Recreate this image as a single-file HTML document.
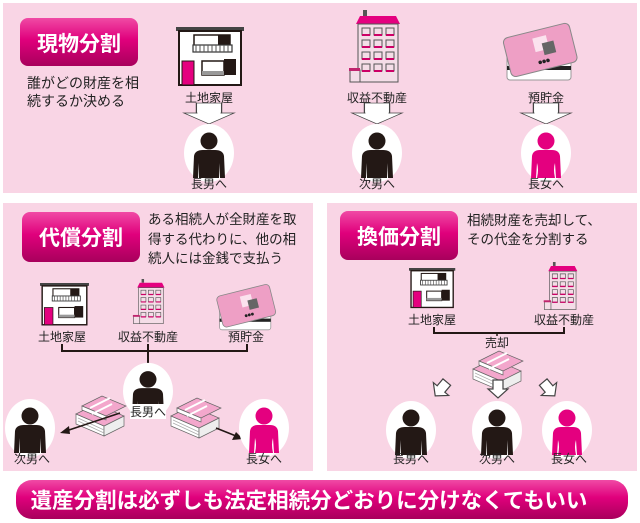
<!DOCTYPE html>
<html><head><meta charset="utf-8"><style>
html,body{margin:0;padding:0;background:#fff}
svg{display:block}
text{font-family:"Liberation Sans","Noto Sans CJK JP",sans-serif;fill:#222}
</style></head><body>
<svg width="640" height="523" viewBox="0 0 640 523" xmlns="http://www.w3.org/2000/svg">
<defs>
<linearGradient id="mg" x1="0" y1="0" x2="0" y2="1">
<stop offset="0" stop-color="#f04aa5"/><stop offset="0.45" stop-color="#e0007c"/><stop offset="1" stop-color="#a8005c"/>
</linearGradient>
<g id="pm">
<ellipse cx="0" cy="0" rx="25" ry="29" fill="#fff"/>
<circle cx="0" cy="-12" r="8.5" fill="#231815"/>
<path d="M-16,25 L-15,3 Q-14,-3 -6,-3 L6,-3 Q14,-3 15,3 L16,25 L11,25 L10,10 L10,25 L-10,25 L-10,10 L-11,25 Z" fill="#231815"/>
</g>
<g id="pf">
<ellipse cx="0" cy="0" rx="25" ry="29" fill="#fff"/>
<circle cx="0" cy="-12" r="8.5" fill="#e4007f"/>
<path d="M-15,25 L-14,3 Q-13,-3 -6,-3 L6,-3 Q13,-3 14,3 L15,25 L10,25 L9,10 Q7,16 9,25 L-9,25 Q-7,16 -9,10 L-10,25 Z" fill="#e4007f"/>
</g>
<g id="house">
<rect x="0" y="0" width="68" height="4" fill="#444"/>
<rect x="3" y="4" width="62" height="54" fill="#fff" stroke="#231815" stroke-width="2"/>
<rect x="18" y="8" width="36" height="14" fill="none" stroke="#231815" stroke-width="1.5"/>
<rect x="42" y="8" width="12" height="10" fill="#231815"/>
<rect x="17" y="18" width="39" height="7" fill="#fff" stroke="#333" stroke-width="1.2"/>
<path d="M20,18v7M24,18v7M28,18v7M32,18v7M36,18v7M40,18v7M44,18v7M48,18v7M52,18v7" stroke="#555" stroke-width="1"/>
<rect x="6" y="34" width="12" height="24" fill="#e4007f" stroke="#231815" stroke-width="1"/>
<rect x="26" y="34" width="22" height="14" fill="none" stroke="#231815" stroke-width="1.5"/>
<rect x="48" y="32" width="12" height="16" fill="#231815"/>
<rect x="26" y="44" width="22" height="4" fill="#999"/>
</g>
<g id="bldg">
<rect x="9" y="0" width="4" height="6" fill="#555"/>
<path d="M2,14 L6,6 L42,6 L46,14 Z" fill="#e4007f"/>
<rect x="4" y="14" width="40" height="58" fill="#f4dde7" stroke="#555" stroke-width="1"/>
<g fill="none" stroke="#555" stroke-width="1">
<path d="M8,18h8v7h-8zM20,18h8v7h-8zM32,18h8v7h-8z M8,30h8v7h-8zM20,30h8v7h-8zM32,30h8v7h-8z M8,42h8v7h-8zM20,42h8v7h-8zM32,42h8v7h-8z M8,54h8v7h-8zM20,54h8v7h-8zM32,54h8v7h-8z"/>
</g>
<path d="M8,25h8M20,25h8M32,25h8M8,37h8M20,37h8M32,37h8M8,49h8M20,49h8M32,49h8M8,61h8M20,61h8M32,61h8" stroke="#c06" stroke-width="2"/>
<path d="M-4,60h10v12h-10z" fill="#f4dde7" stroke="#555"/>
<rect x="-5" y="58" width="11" height="3" fill="#c0246e"/>
</g>
<g id="card">
<rect x="2" y="22" width="64" height="34" rx="3" fill="#fff" stroke="#999"/>
<rect x="2" y="42" width="64" height="4" fill="#222"/>
<g transform="rotate(-14 35 25)">
<rect x="1" y="6" width="68" height="40" rx="5" fill="#ee9fc5" stroke="#888"/>
<rect x="30" y="13" width="14" height="14" fill="#fbe2ee"/>
<rect x="38" y="20" width="12" height="12" fill="#666"/>
<circle cx="32" cy="38" r="1.8" fill="#222"/><circle cx="36" cy="38" r="1.8" fill="#222"/><circle cx="40" cy="38" r="1.8" fill="#222"/>
</g>
</g>
<g id="money">
<g stroke="#666" stroke-width="0.7">
<path d="M0,14 L28,26 L28,36 L0,24 Z" fill="#fff"/>
<path d="M28,26 L48,16 L48,26 L28,36 Z" fill="#eee"/>
<path d="M0,14 L20,4 L48,16 L28,26 Z" fill="#f3a7cc"/>
<path d="M2,18L28,30M2,21L28,33" stroke="#aaa"/>
<path d="M6,6 L26,-4 L50,6 L30,16 Z" fill="#f3a7cc"/>
<path d="M6,6 L30,16 L30,20 L6,10 Z" fill="#fff"/>
</g>
<path d="M14,8 L34,-2" stroke="#fff" stroke-width="2"/>
<path d="M16,14 L36,4" stroke="#fff" stroke-width="2"/>
</g>
<g id="wa"><path d="M-24,0 H24 L0,20 Z" fill="#fff" stroke="#444" stroke-width="1.2"/>
<path d="M-12,-18 H12 V0 H-12 Z" fill="#fff" stroke="#444" stroke-width="1.2"/>
<path d="M-11,0 H11" stroke="#fff" stroke-width="2"/></g>
<g id="sa"><path d="M-5,-9 H5 V0 H10 L0,9 L-10,0 H-5 Z" fill="#fff" stroke="#444" stroke-width="1.2"/></g>
</defs>

<!-- top panel -->
<rect x="3" y="3" width="634" height="190" fill="#f9d5e5"/>
<rect x="20" y="18" width="118" height="48" rx="8" fill="url(#mg)"/>
<text x="79" y="51" text-anchor="middle" font-size="21" font-weight="bold" style="fill:#fff">現物分割</text>
<text x="27" y="88" font-size="14">誰がどの財産を相</text>
<text x="27" y="106" font-size="14">続するか決める</text>
<use href="#house" transform="translate(176,27)"/>
<use href="#bldg" transform="translate(354,10)"/>
<use href="#card" transform="translate(505,24)"/>
<text x="209" y="102" text-anchor="middle" font-size="12">土地家屋</text>
<text x="377" y="102" text-anchor="middle" font-size="12">収益不動産</text>
<text x="546" y="102" text-anchor="middle" font-size="12">預貯金</text>
<use href="#wa" transform="translate(209,113) scale(1.05,0.55)"/>
<use href="#wa" transform="translate(377,113) scale(1.05,0.55)"/>
<use href="#wa" transform="translate(546,113) scale(1.05,0.55)"/>
<use href="#pm" transform="translate(209,153)"/>
<use href="#pm" transform="translate(377,153)"/>
<use href="#pf" transform="translate(546,153)"/>
<text x="209" y="188" text-anchor="middle" font-size="12">長男へ</text>
<text x="377" y="188" text-anchor="middle" font-size="12">次男へ</text>
<text x="546" y="188" text-anchor="middle" font-size="12">長女へ</text>

<!-- bottom left -->
<rect x="3" y="203" width="310" height="268" fill="#f9d5e5"/>
<rect x="22" y="212" width="118" height="50" rx="8" fill="url(#mg)"/>
<text x="81" y="245" text-anchor="middle" font-size="21" font-weight="bold" style="fill:#fff">代償分割</text>
<text x="148" y="224" font-size="13.5">ある相続人が全財産を取</text>
<text x="148" y="244" font-size="13.5">得する代わりに、他の相</text>
<text x="148" y="263" font-size="13.5">続人には金銭で支払う</text>
<use href="#house" transform="translate(40,283) scale(0.72)"/>
<use href="#bldg" transform="translate(136,279) scale(0.62)"/>
<use href="#card" transform="translate(218,285) scale(0.8)"/>
<text x="62" y="341" text-anchor="middle" font-size="12">土地家屋</text>
<text x="148" y="341" text-anchor="middle" font-size="12">収益不動産</text>
<text x="246" y="341" text-anchor="middle" font-size="12">預貯金</text>
<path d="M62,344 V351 H247 V344 M148,344 V364" fill="none" stroke="#231815" stroke-width="2"/>
<use href="#pm" transform="translate(148,391) scale(1,0.97)"/>
<use href="#money" transform="translate(76,400)"/>
<use href="#money" transform="translate(171,402)"/>
<rect x="130" y="404" width="36" height="15" fill="#fff"/>
<text x="148" y="416" text-anchor="middle" font-size="12">長男へ</text>
<path d="M120,413 L66,431" stroke="#231815" stroke-width="1.5"/><path d="M60,433 L69,426 L70,434 Z" fill="#231815"/>
<path d="M216,428 L236,436" stroke="#231815" stroke-width="1.5"/><path d="M243,439 L232,440 L236,432 Z" fill="#231815"/>
<use href="#pm" transform="translate(30,428)"/>
<use href="#pf" transform="translate(264,428)"/>
<text x="32" y="463" text-anchor="middle" font-size="12">次男へ</text>
<text x="264" y="463" text-anchor="middle" font-size="12">長女へ</text>

<!-- bottom right -->
<rect x="327" y="203" width="310" height="268" fill="#f9d5e5"/>
<rect x="340" y="211" width="118" height="49" rx="8" fill="url(#mg)"/>
<text x="399" y="244" text-anchor="middle" font-size="21" font-weight="bold" style="fill:#fff">換価分割</text>
<text x="467" y="225" font-size="13.5">相続財産を売却して、</text>
<text x="467" y="244" font-size="13.5">その代金を分割する</text>
<use href="#house" transform="translate(409,268) scale(0.68)"/>
<use href="#bldg" transform="translate(547,262) scale(0.66)"/>
<text x="432" y="324" text-anchor="middle" font-size="12">土地家屋</text>
<text x="564" y="324" text-anchor="middle" font-size="12">収益不動産</text>
<path d="M434,327 V333 H564 V327" fill="none" stroke="#231815" stroke-width="2"/>
<text x="497" y="347" text-anchor="middle" font-size="12">売却</text>
<path d="M497,333 V336" stroke="#231815" stroke-width="1.5"/>
<use href="#money" transform="translate(473,355)"/>
<use href="#sa" transform="translate(441,389) rotate(40)"/>
<use href="#sa" transform="translate(498,389)"/>
<use href="#sa" transform="translate(549,389) rotate(-40)"/>
<use href="#pm" transform="translate(411,430)"/>
<use href="#pm" transform="translate(497,430)"/>
<use href="#pf" transform="translate(567,430)"/>
<text x="411" y="463" text-anchor="middle" font-size="12">長男へ</text>
<text x="497" y="463" text-anchor="middle" font-size="12">次男へ</text>
<text x="569" y="463" text-anchor="middle" font-size="12">長女へ</text>

<!-- banner -->
<rect x="16" y="480" width="612" height="39" rx="16" fill="url(#mg)"/>
<text x="309" y="508" text-anchor="middle" font-size="21.5" font-weight="bold" style="fill:#fff">遺産分割は必ずしも法定相続分どおりに分けなくてもいい</text>
</svg>
</body></html>
